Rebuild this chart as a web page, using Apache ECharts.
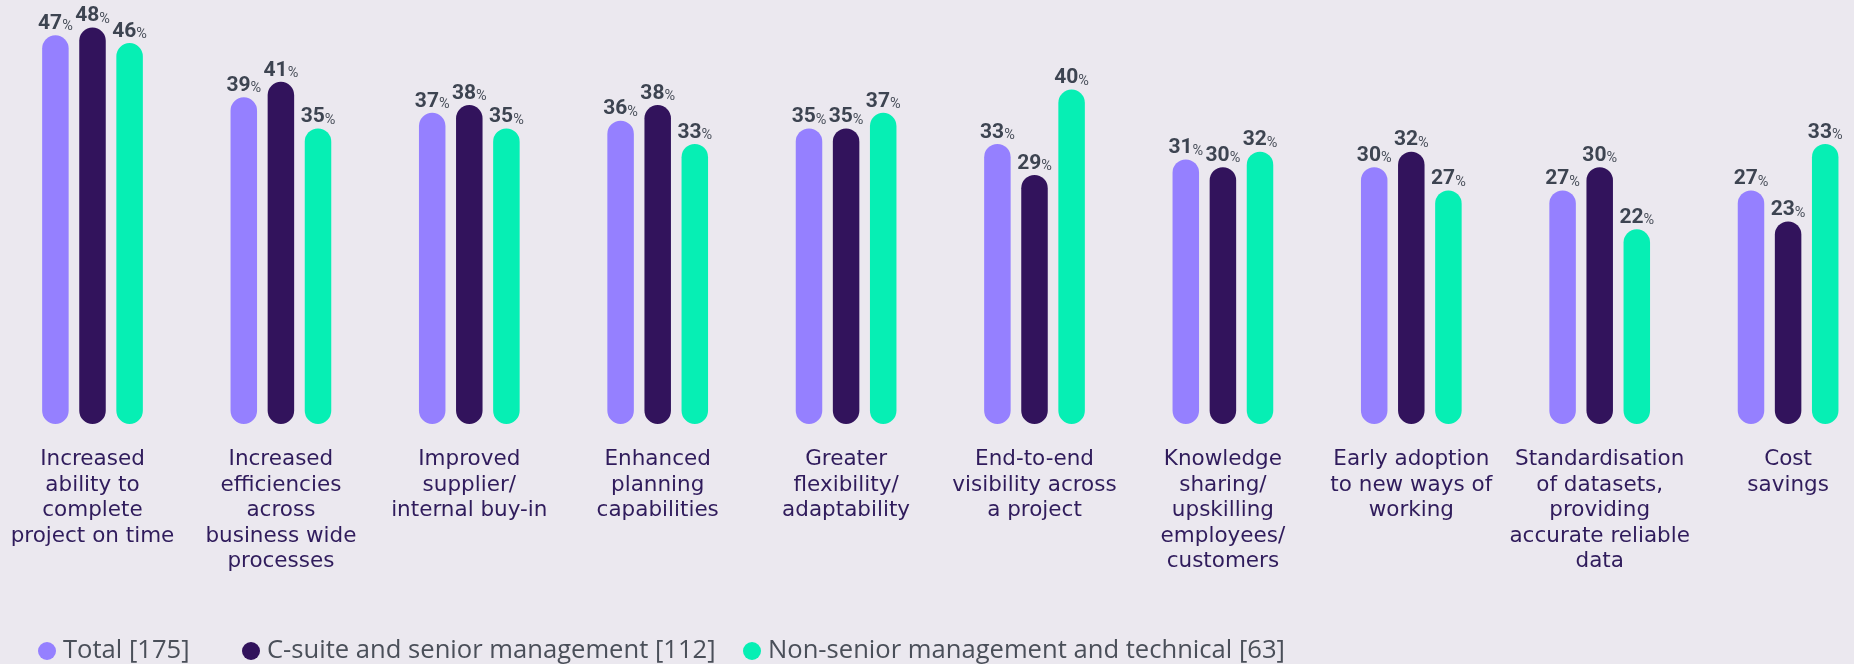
<!DOCTYPE html>
<html>
<head>
<meta charset="utf-8">
<style>
  html, body { margin: 0; padding: 0; background: #ebe8ef; }
  #chart { width: 1854px; height: 664px; }
</style>
<script src="https://cdn.jsdelivr.net/npm/echarts@6/dist/echarts.min.js"></script>
</head>
<body>
<div id="chart"></div>
<script>
const categories = [
  "Increased\nability to\ncomplete\nproject on time",
  "Increased\nefficiencies\nacross\nbusiness wide\nprocesses",
  "Improved\nsupplier/\ninternal buy-in",
  "Enhanced\nplanning\ncapabilities",
  "Greater\nflexibility/\nadaptability",
  "End-to-end\nvisibility across\na project",
  "Knowledge\nsharing/\nupskilling\nemployees/\ncustomers",
  "Early adoption\nto new ways of\nworking",
  "Standardisation\nof datasets,\nproviding\naccurate reliable\ndata",
  "Cost\nsavings"
];
const seriesNames = [
  "Total [175]",
  "C-suite and senior management [112]",
  "Non-senior management and technical [63]"
];
const totalValues = [47, 39, 37, 36, 35, 33, 31, 30, 27, 27];
const csuiteValues = [48, 41, 38, 38, 35, 29, 30, 32, 30, 23];
const nonSeniorValues = [46, 35, 35, 33, 37, 40, 32, 27, 22, 33];
const colors = ["#9580ff", "#32135c", "#06efb4"];

const chart = echarts.init(document.getElementById('chart'));
const valueSets = [totalValues, csuiteValues, nonSeniorValues];

const series = valueSets.map((vals, i) => ({
  name: seriesNames[i],
  type: 'bar',
  data: vals,
  barWidth: 26.5,
  barGap: '40%',
  itemStyle: { color: colors[i], borderRadius: 14 },
  label: {
    show: true,
    position: 'top',
    distance: 1,
    formatter: p => '{v|' + p.value + '}{p|%}',
    rich: {
      v: { fontFamily: 'Roboto', fontSize: 21, fontWeight: 'bold', color: '#3d4451', lineHeight: 21 },
      p: { fontFamily: 'Roboto', fontSize: 14.5, color: '#4a505b', lineHeight: 17, verticalAlign: 'bottom' }
    }
  },
  emphasis: { disabled: true }
}));

const legendLefts = [38, 242, 743];
const legends = seriesNames.map((n, i) => ({
  data: [n],
  left: legendLefts[i],
  top: 638,
  icon: 'circle',
  itemWidth: 18,
  itemHeight: 18,
  padding: 0,
  selectedMode: false,
  textStyle: { fontFamily: 'Open Sans', fontSize: 25.6, color: '#4a4f59', padding: [0, 0, 0, 2] }
}));

chart.setOption({
  backgroundColor: '#ebe8ef',
  animation: false,
  grid: { left: -1.7, right: -28.3, top: 12, bottom: 240, containLabel: false, outerBoundsMode: 'none' },
  legend: legends,
  xAxis: {
    type: 'category',
    data: categories,
    axisLine: { show: false },
    axisTick: { show: false },
    axisLabel: {
      interval: 0,
      margin: 23,
      fontFamily: 'DejaVu Sans',
      fontSize: 21.5,
      lineHeight: 25.5,
      color: '#301c5c',
      align: 'center'
    }
  },
  yAxis: {
    type: 'value',
    min: -3.1,
    max: 50,
    startValue: -3.1,
    show: false,
    splitLine: { show: false }
  },
  series: series
});
</script>
</body>
</html>
